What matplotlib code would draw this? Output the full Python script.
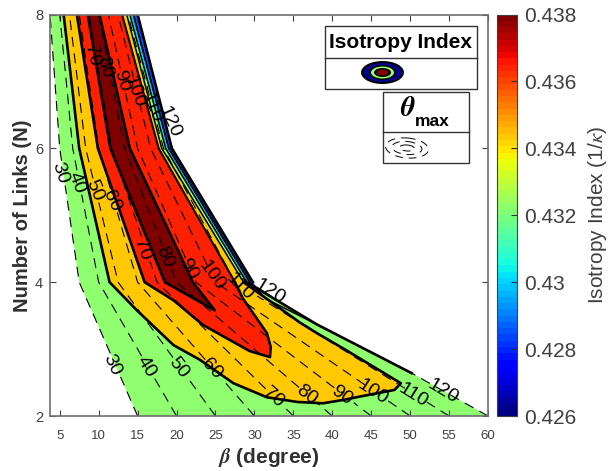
import matplotlib
matplotlib.use("Agg")
import matplotlib.pyplot as plt
import numpy as np
from matplotlib.colors import Normalize
from matplotlib.cm import ScalarMappable
from matplotlib.patches import Ellipse, Rectangle

plt.rcParams["font.family"] = ["Liberation Sans", "DejaVu Sans"]
plt.rcParams["mathtext.fontset"] = "stix"

# dashed theta_max lines, beta at each N row
n_rows = [2, 4, 6, 8]
theta_lines = {
    30: [15, 7.5, 5, 3.75],
    40: [20, 10, 6.67, 5],
    50: [25, 12.5, 8.33, 6.25],
    60: [30, 15, 10, 7.5],
    70: [35, 17.5, 11.67, 8.75],
    80: [40, 20, 13.33, 10],
    90: [45, 22.5, 15, 11.25],
    100: [50, 25, 16.67, 12.5],
    110: [55, 27.5, 18.33, 13.75],
}
# only the tail of the 120 line shows
theta_120_beta = [60, 50.2]
theta_120_n = [2, 2.64]

# filled isotropy regions
blue_beta = [15, 19.4, 29.8, 31.5, 29.4, 19.0, 14.45]
blue_n = [8, 6, 4, 3.75, 4, 6, 8]
cyan_beta = [14.45, 19.0, 29.4, 31.5, 38, 29, 18.6, 14.0]
cyan_n = [8, 6, 4, 3.75, 3.37, 4, 6, 8]
green_beta = [3.75, 5, 7.5, 15, 60, 50.2, 38, 29, 18.6, 14.0]
green_n = [8, 6, 4, 2, 2, 2.64, 3.37, 4, 6, 8]
orange_beta = [5.5, 7.5, 11.4, 14.9, 19.6, 23, 27.3, 31.6, 35.5, 38.8, 41.4, 44.4,
               48, 48.8, 41.4, 38, 35.8, 28.6, 18.1, 13.6]
orange_n = [8, 6, 4, 3.58, 3.06, 2.84, 2.49, 2.28, 2.21, 2.19, 2.24, 2.31,
            2.39, 2.49, 3.01, 3.24, 3.40, 4, 6, 8]
red_beta = [7.2, 9.9, 15.9, 19.6, 23.4, 29.4, 32, 32.1, 31.6, 28.5, 27.5, 17.7, 13.0]
red_n = [8, 6, 4, 3.73, 3.36, 2.97, 2.88, 3.03, 3.24, 3.76, 4, 6, 8]
dark_beta = [8.6, 11.5, 18.5, 24.9, 22.1, 14, 10.1]
dark_n = [8, 6, 4, 3.58, 4, 6, 8]

# contour labels
label_text = [30, 40, 50, 60, 70, 80, 90, 100, 110, 120,
              70, 80, 90, 100, 110, 120,
              30, 40, 50, 60,
              70, 80, 90, 100, 110, 120]
label_beta = [11.7, 16.05, 20.2, 24.5, 32.4, 36.7, 41.2, 45.2, 50.4, 54.2,
              15.5, 18.5, 21.5, 24.5, 28.1, 32.0,
              5.0, 7.2, 9.5, 11.7,
              9.1, 10.8, 13.0, 14.6, 16.8, 19.1]
label_n = [2.76, 2.73, 2.72, 2.70, 2.28, 2.31, 2.31, 2.36, 2.31, 2.37,
           4.49, 4.37, 4.19, 4.10, 3.93, 3.85,
           5.63, 5.49, 5.37, 5.22,
           7.39, 7.21, 7.01, 6.84, 6.61, 6.39]
label_rot = [-65, -58, -52, -47, -40, -37, -35, -33, -32, -31,
             -70, -66, -60, -54, -45, -32,
             -72, -70, -68, -65,
             -76, -74, -72, -70, -68, -66]

x_ticks = [5, 10, 15, 20, 25, 30, 35, 40, 45, 50, 55, 60]
y_ticks = [2, 4, 6, 8]
cbar_ticks = [0.426, 0.428, 0.43, 0.432, 0.434, 0.436, 0.438]
cbar_labels = ["0.426", "0.428", "0.43", "0.432", "0.434", "0.436", "0.438"]

W, H = 610, 471
fig = plt.figure(figsize=(W / 100, H / 100), dpi=100)
ax = fig.add_axes([50 / W, 1 - 416 / H, 438 / W, 401.5 / H])

ax.fill(blue_beta, blue_n, color="#0050ff", lw=0)
ax.fill(cyan_beta, cyan_n, color="#00d0ff", lw=0)
ax.fill(green_beta, green_n, color="#8fff70", lw=0)
ax.fill(orange_beta, orange_n, color="#ffc800", lw=0)
ax.fill(red_beta, red_n, color="#ff2000", lw=0)
ax.fill(dark_beta, dark_n, color="#800000", lw=0)

# dashed lines, broken where their labels sit
for theta, betas in theta_lines.items():
    ns = list(n_rows)
    for t, n, r in zip(label_text, label_n, label_rot):
        if t == theta:
            gap = 13 * abs(np.sin(np.radians(r))) / 67
            ns += [n - gap, n, n + gap]
    ns = sorted(ns)
    bs = list(np.interp(ns, n_rows, betas))
    for t, n in zip(label_text, label_n):
        if t == theta:
            bs[ns.index(n)] = np.nan
    ax.plot(bs, ns, color="k", lw=0.8, dashes=(9, 6))
ax.plot(theta_120_beta, theta_120_n, color="k", lw=0.8, dashes=(9, 6))

edge = dict(color="k", lw=1.9, solid_joinstyle="round")
thin = dict(color="k", lw=1.1, solid_joinstyle="round")
ax.plot(blue_beta[:3], blue_n[:3], **edge)
ax.plot(blue_beta[3:], blue_n[3:], **thin)
ax.plot(cyan_beta[:5], cyan_n[:5], **thin)
ax.plot(green_beta[5:8], green_n[5:8], **edge)
ax.plot(green_beta[7:], green_n[7:], **thin)
ax.plot(orange_beta[:18], orange_n[:18], **edge)
ax.plot(orange_beta[17:], orange_n[17:], **thin)
ax.plot(red_beta[:11], red_n[:11], **edge)
ax.plot(red_beta[10:], red_n[10:], color="k", lw=1.5)
ax.plot(dark_beta, dark_n, **edge)

for t, b, n, r in zip(label_text, label_beta, label_n, label_rot):
    ax.text(b, n, str(t), rotation=r, rotation_mode="anchor", ha="center", va="center",
            fontsize=14, color="k")

ax.set_xlim(3.75, 60)
ax.set_ylim(2, 8)
ax.set_xticks(x_ticks)
ax.set_yticks(y_ticks)
ax.tick_params(axis="x", direction="in", top=True, length=4, width=0.8, color="#404040",
               labelsize=9.5, labelcolor="#404040", pad=10)
ax.tick_params(axis="y", direction="in", right=True, length=4, width=0.8, color="#404040",
               labelsize=10.5, labelcolor="#404040", pad=5)
for s in ax.spines.values():
    s.set_color("#707070")
    s.set_linewidth(1.2)
ax.set_xlabel(r"$\mathbfit{\beta}$ (degree)", fontsize=15, fontweight="bold", color="#303030", labelpad=3)
ax.set_ylabel("Number of Links (N)", fontsize=14.5, fontweight="bold", color="#303030", labelpad=2)

# colorbar
cax = fig.add_axes([497 / W, 1 - 416 / H, 20 / W, 401.5 / H])
sm = ScalarMappable(norm=Normalize(0.426, 0.438), cmap=plt.get_cmap("jet", 64))
cb = fig.colorbar(sm, cax=cax, ticks=cbar_ticks)
cb.ax.set_yticklabels(cbar_labels)
cb.ax.tick_params(direction="in", length=4, width=0.8, color="#303030",
                  labelsize=15, labelcolor="#404040", pad=5)
cb.outline.set_edgecolor("#404040")
cb.set_label(r"Isotropy Index (1/$\kappa$)", fontsize=15, color="#404040", labelpad=7)

# legend boxes, drawn in pixel space over the plot
ov = fig.add_axes([0, 0, 1, 1], facecolor="none")
ov.set_xlim(0, W)
ov.set_ylim(H, 0)
ov.axis("off")

for x0, y0, x1, y1, ym in [(325, 26, 476.5, 89, 57.5), (383, 92, 469, 163, 132)]:
    ov.add_patch(Rectangle((x0, y0), x1 - x0, y1 - y0, fc="w", ec="#333333", lw=1))
    ov.plot([x0, x1], [ym, ym], color="#333333", lw=1)

ov.text(400.5, 42, "Isotropy Index", ha="center", va="center", fontsize=15, fontweight="bold", color="k")
ov.text(408, 109, r"$\mathbfit{\theta}$", ha="center", va="center", fontsize=20, color="k")
ov.text(432, 122, "max", ha="center", va="center", fontsize=12.5, fontweight="bold", color="k")

rings = [(43, 23, "k"), (38, 19, "#000090"), (27, 15, "k"), (23, 12, "#8fff70"), (17, 9, "k"), (12, 6, "#800000")]
for w, h, c in rings:
    ov.add_patch(Ellipse((382.5, 72.5), w, h, fc=c, ec="none"))

for w, h in [(43, 20), (30, 13), (15, 6)]:
    ov.add_patch(Ellipse((407, 148), w, h, angle=5, fc="none", ec="k", lw=0.7, ls=(0, (8, 6))))

fig.savefig("out.png", dpi=100)
